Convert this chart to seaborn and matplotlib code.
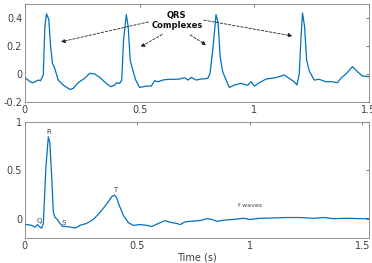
import numpy as np
import pandas as pd
import seaborn as sns
import matplotlib.pyplot as plt

# traza superior: varios latidos
t_top = [0, 0.022, 0.036, 0.058, 0.068, 0.08, 0.087, 0.094, 0.104, 0.112, 0.12, 0.13,
         0.145, 0.167, 0.196, 0.21, 0.232, 0.26, 0.283, 0.304, 0.326, 0.355, 0.374,
         0.391, 0.40, 0.413, 0.422, 0.43, 0.442, 0.45, 0.459, 0.468, 0.483, 0.5,
         0.529, 0.551, 0.565, 0.58, 0.601, 0.623, 0.645, 0.674, 0.696, 0.71, 0.725,
         0.746, 0.768, 0.797, 0.807, 0.819, 0.833, 0.842, 0.851, 0.862, 0.877, 0.891,
         0.913, 0.942, 0.971, 0.986, 1.0, 1.022, 1.051, 1.094, 1.13, 1.152, 1.174,
         1.186, 1.196, 1.203, 1.21, 1.219, 1.228, 1.239, 1.261, 1.283, 1.312, 1.341,
         1.362, 1.377, 1.399, 1.428, 1.449, 1.471, 1.5]
v_top = [-0.024, -0.055, -0.062, -0.043, -0.048, -0.007, 0.34, 0.43, 0.39, 0.196, 0.077, 0.04,
         -0.043, -0.079, -0.11, -0.103, -0.062, -0.031, 0.005, 0.0, -0.024, -0.067, -0.091,
         -0.079, -0.062, -0.067, -0.043, 0.244, 0.424, 0.34, 0.10, 0.04, -0.043, -0.096,
         -0.086, -0.086, -0.048, -0.055, -0.043, -0.038, -0.038, -0.036, -0.026, -0.043, -0.024,
         -0.043, -0.036, -0.031, 0.005, 0.172, 0.424, 0.364, 0.125, 0.017, -0.043, -0.096,
         -0.079, -0.067, -0.081, -0.055, -0.086, -0.062, -0.036, -0.026, -0.007, -0.031, -0.055,
         -0.079, 0.005, 0.244, 0.436, 0.34, 0.10, 0.024, -0.043, -0.038, -0.055, -0.055,
         -0.062, -0.031, 0.0, 0.053, 0.017, -0.014, -0.019]

# traza inferior: un latido promedio
t_bot = [0, 0.03, 0.045, 0.055, 0.067, 0.074, 0.082, 0.093, 0.104, 0.111, 0.119, 0.126,
         0.134, 0.144, 0.156, 0.168, 0.185, 0.208, 0.223, 0.245, 0.274, 0.304, 0.334,
         0.364, 0.386, 0.398, 0.408, 0.42, 0.438, 0.46, 0.482, 0.512, 0.542, 0.564,
         0.586, 0.623, 0.645, 0.675, 0.69, 0.712, 0.749, 0.779, 0.809, 0.831, 0.853,
         0.883, 0.927, 0.972, 1.001, 1.046, 1.105, 1.165, 1.224, 1.283, 1.328, 1.372,
         1.432, 1.491, 1.533]
v_bot = [-0.057, -0.069, -0.089, -0.061, -0.089, -0.098, -0.049, 0.52, 0.846, 0.785, 0.44, 0.073,
         0.012, -0.008, -0.049, -0.081, -0.081, -0.089, -0.098, -0.069, -0.049, -0.008, 0.065,
         0.154, 0.228, 0.244, 0.215, 0.134, 0.033, -0.041, -0.069, -0.061, -0.069, -0.081,
         -0.057, -0.02, -0.037, -0.049, -0.061, -0.033, -0.024, -0.02, 0.0, -0.008, -0.028,
         -0.016, -0.008, 0.004, -0.008, 0.004, 0.008, 0.012, 0.012, 0.004, 0.012, 0.0,
         0.004, 0.0, 0.0]

df_top = pd.DataFrame({'t': t_top, 'v': v_top})
df_bot = pd.DataFrame({'t': t_bot, 'v': v_bot})

sns.set_theme(style="white")
plt.rcParams['font.family'] = ['DejaVu Sans']
plt.rcParams['xtick.direction'] = 'in'
plt.rcParams['ytick.direction'] = 'in'

azul = '#0072BD'
gris = '#404040'

fig = plt.figure(figsize=(3.72, 2.63), dpi=100)
ax1 = fig.add_axes([0.067, 0.612, 0.925, 0.373])
ax2 = fig.add_axes([0.067, 0.095, 0.925, 0.441])

sns.lineplot(data=df_top, x='t', y='v', ax=ax1, color=azul, linewidth=0.9)
sns.lineplot(data=df_bot, x='t', y='v', ax=ax2, color=azul, linewidth=0.9)

ax1.set_xlim(0, 1.5)
ax1.set_ylim(-0.2, 0.5)
ax1.set_xticks([0, 0.5, 1, 1.5])
ax1.set_xticklabels(['0', '0.5', '1', '1.5'])
ax1.set_yticks([-0.2, 0, 0.2, 0.4])
ax1.set_yticklabels(['-0.2', '0', '0.2', '0.4'])

ax2.set_xlim(0, 1.53)
ax2.set_ylim(-0.2, 1)
ax2.set_xticks([0, 0.5, 1, 1.5])
ax2.set_xticklabels(['0', '0.5', '1', '1.5'])
ax2.set_yticks([0, 0.5, 1])
ax2.set_yticklabels(['0', '0.5', '1'])

for ax in (ax1, ax2):
    ax.set_xlabel('')
    ax.set_ylabel('')
    ax.tick_params(labelsize=7, colors=gris, length=2.5, width=0.5,
                   top=True, right=True, pad=2)
    for s in ax.spines.values():
        s.set_color('#7f7f7f')
        s.set_linewidth(0.6)

ax2.set_xlabel('Time (s)', fontsize=7, color=gris, labelpad=1)

# anotaciones QRS
ax1.text(0.662, 0.38, 'QRS\nComplexes', ha='center', va='center',
         fontsize=6, fontweight='bold', color='#111111', linespacing=1.1)
flechas = [((0.55, 0.376), (0.145, 0.225)),
           ((0.609, 0.292), (0.493, 0.184)),
           ((0.71, 0.29), (0.80, 0.196)),
           ((0.768, 0.388), (1.178, 0.268))]
for ini, fin in flechas:
    ax1.annotate('', xy=fin, xytext=ini,
                 arrowprops=dict(arrowstyle='-|>', linestyle=(0, (3, 2)), color='#222222',
                                 lw=0.6, mutation_scale=6))

# nombres de ondas
for x, y, s in [(0.062, -0.02, 'Q'), (0.104, 0.9, 'R'), (0.174, -0.04, 'S'), (0.4, 0.3, 'T')]:
    ax2.text(x, y, s, ha='center', va='center', fontsize=5, color=gris)
ax2.text(1.0, 0.14, 'f waves', ha='center', va='center', fontsize=4.5, color=gris)

plt.savefig('out.png', dpi=100)
